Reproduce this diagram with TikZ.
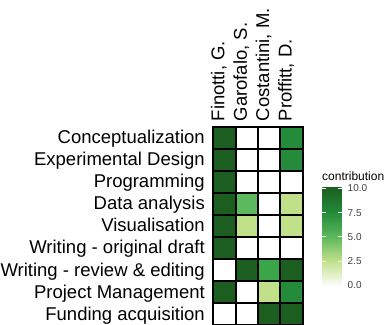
\documentclass[tikz,border=0pt]{standalone}
\usepackage{fontspec}
\setmainfont{Liberation Sans}
\definecolor{cten}{HTML}{1B5E20}
\definecolor{csev}{HTML}{238B3A}
\definecolor{csix}{HTML}{3BA54A}
\definecolor{cfive}{HTML}{5DB95D}
\definecolor{ctwo}{HTML}{C0E08A}
\begin{document}
\begin{tikzpicture}[x=1pt,y=-1pt,
  tile/.style={draw=black, line width=2pt, minimum width=22.35pt, minimum height=22.05pt,
               inner sep=0pt, outer sep=0pt},
  rowlab/.style={anchor=base east, inner sep=0pt, font=\fontsize{18.5}{20}\selectfont},
  collab/.style={anchor=base west, rotate=90, inner sep=0pt, font=\fontsize{18.5}{20}\selectfont},
  ticklab/.style={anchor=west, inner sep=0pt, font=\fontsize{10}{12}\selectfont, text=black!75},
  bartick/.style={white, line width=0.6pt}
]
\clip (0,0) rectangle (387,324);
\fill[white] (0,0) rectangle (387,324);

% grid geometry: left edge, top edge, tile width, tile height
\def\gl{213.3}\def\gt{126.5}\def\tw{22.35}\def\th{22.05}

% heatmap tiles, one row per task, columns = authors
\foreach \r/\cols in {1/{cten,white,white,csev},
                      2/{cten,white,white,csev},
                      3/{cten,white,white,white},
                      4/{cten,cfive,white,ctwo},
                      5/{cten,ctwo,white,ctwo},
                      6/{cten,white,white,white},
                      7/{white,cten,csix,cten},
                      8/{cten,white,ctwo,csev},
                      9/{white,white,cten,cten}}{
  \foreach \c [count=\k] in \cols {
    \node[tile, fill=\c] (t-\r-\k) at ({\gl+(\k-0.5)*\tw},{\gt+(\r-0.5)*\th}) {};
  }
}

% task labels
\foreach \r/\txt in {1/Conceptualization, 2/Experimental Design, 3/Programming,
                     4/Data analysis, 5/Visualisation, 6/Writing - original draft,
                     7/Writing - review \& editing, 8/Project Management,
                     9/Funding acquisition}{
  \node[rowlab] (row-\r) at (205,{\gt+(\r-0.5)*\th+6.2}) {\txt};
}

% author labels
\foreach \k/\txt in {1/{Finotti, G.}, 2/{Garofalo, S.}, 3/{Costantini, M.}, 4/{Proffitt, D.}}{
  \node[collab] (col-\k) at ({\gl+(\k-0.5)*\tw},121.5) {\txt};
}

% colour bar legend
\node[anchor=base west, inner sep=0pt, font=\fontsize{12}{14}\selectfont] (legtitle) at (322,180.5) {contribution};
\def\yz{285}\def\yt{188.5}
\shade[bottom color=white, top color=ctwo] (322.3,{\yz+1.5}) rectangle (341.7,{\yz-24.1});
\shade[bottom color=ctwo, top color=cfive] (322.3,{\yz-24.1}) rectangle (341.7,{\yz-48.2});
\shade[bottom color=cfive, top color=csev] (322.3,{\yz-48.2}) rectangle (341.7,{\yz-72.4});
\shade[bottom color=csev, top color=cten] (322.3,{\yz-72.4}) rectangle (341.7,{\yt-1.5});
\foreach \v/\lab [count=\i] in {0/0.0, 2.5/2.5, 5/5.0, 7.5/7.5, 10/10.0}{
  \pgfmathsetmacro{\yy}{\yz-(\yz-\yt)*\v/10}
  \draw[bartick] (322.3,\yy) -- (326.2,\yy);
  \draw[bartick] (337.8,\yy) -- (341.7,\yy);
  \node[ticklab] (tick-\i) at (347.5,\yy) {\lab};
}
\end{tikzpicture}
\end{document}
